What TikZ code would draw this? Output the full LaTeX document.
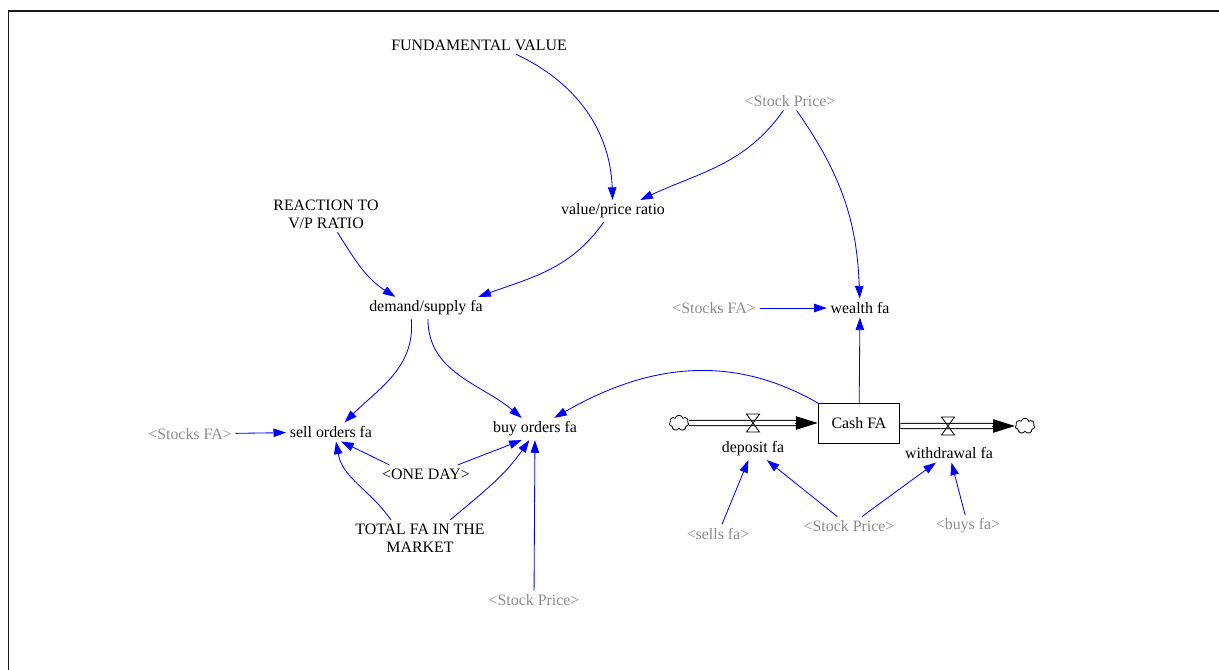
\documentclass[tikz,border=0pt]{standalone}
\usepackage{fontspec}
\setmainfont{Liberation Serif}
\usetikzlibrary{arrows.meta, shapes.symbols}
\definecolor{LinkBlue}  {HTML}{0000FF}
\definecolor{ShadowGray}{HTML}{8C8C8C}
\definecolor{FrameBlack}{HTML}{1A1A1A}
\tikzset{
  var/.style={
    font=\fontsize{11.3}{13}\selectfont, align=center, inner sep=2.5pt,
  },
  shadowvar/.style={var, text=ShadowGray},
  stock/.style={
    draw, line width=0.7pt, minimum width=58pt, minimum height=28.5pt,
    font=\fontsize{11.3}{13}\selectfont, inner sep=2pt,
  },
  link/.style={
    -{Triangle[length=9pt,width=6pt]}, color=LinkBlue, line width=0.6pt,
  },
  pipe/.style={double, double distance=3pt, line width=0.7pt},
  pipetip/.style={-{Triangle[length=15.5pt,width=9.5pt]}, line width=0.7pt},
  cloudend/.style={
    cloud, cloud puffs=7, draw, line width=0.6pt,
    minimum width=14pt, minimum height=11pt, inner sep=0pt,
  },
  valve/.pic={
    \draw[line width=0.6pt] (-6.5,9) -- (6.5,9) -- (-6.5,-9) -- (6.5,-9) -- cycle;
  },
}

\begin{document}
\begin{tikzpicture}[x=0.025cm, y=0.025cm]

\useasboundingbox (0,0) rectangle (1219,-670);

% ── Frame (only top and left edges show) ─────────────────────────────────
\draw[FrameBlack, line width=1.4pt] (8.5,-670) -- (8.5,-11) -- (1219,-11);

% ── Variables ─────────────────────────────────────────────────────────────
\node[var]       (fv)     at (479,-45)  {FUNDAMENTAL VALUE};
\node[shadowvar] (spA)    at (790,-101) {<Stock Price>};
\node[var]       (react)  at (326,-214) {REACTION TO\\V/P RATIO};
\node[var]       (vpr)    at (613,-211) {value/price ratio};
\node[var]       (dem)    at (426,-308) {demand/supply fa};
\node[shadowvar] (stkA)   at (714,-308) {<Stocks FA>};
\node[var]       (wealth) at (860,-308) {wealth fa};
\node[shadowvar] (stkB)   at (190,-434) {<Stocks FA>};
\node[var]       (sell)   at (331,-432) {sell orders fa};
\node[var]       (buy)    at (535,-429) {buy orders fa};
\node[var]       (oneday) at (426,-474) {<ONE DAY>};
\node[var]       (total)  at (420,-538) {TOTAL FA IN THE\\MARKET};
\node[shadowvar] (spB)    at (534,-600) {<Stock Price>};

% ── Stock and flows ───────────────────────────────────────────────────────
\node[stock]    (cash)   at (859,-423.5) {Cash FA};
\node[cloudend] (cloudL) at (679,-423) {};
\node[cloudend] (cloudR) at (1025,-426) {};
\coordinate (vdep) at (753,-423);
\coordinate (vwd)  at (948,-426);

\draw[pipe, shorten >=15pt] (cloudL) -- (cloudL -| cash.west);
\draw[pipetip] ([xshift=-16pt]cloudL -| cash.west) -- (cloudL -| cash.west);
\draw[pipe, shorten >=15pt] (cloudR -| cash.east) -- (cloudR);
\draw[pipetip] ([xshift=-16pt]cloudR.west) -- (cloudR.west);
\pic at (vdep) {valve};
\pic at (vwd) {valve};

\node[var]       (dep)   at (753,-449) {deposit fa};
\node[var]       (wd)    at (949,-453) {withdrawal fa};
\node[shadowvar] (sells) at (718,-534) {<sells fa>};
\node[shadowvar] (spC)   at (849,-526) {<Stock Price>};
\node[shadowvar] (buys)  at (968,-526) {<buys fa>};

% ── Links ─────────────────────────────────────────────────────────────────
\draw[link] (fv.-14) to[out=-25, in=92] (vpr);
\draw[link] (spA) to[out=235, in=25] (vpr.22);
\draw[link] (spA) to[out=-55, in=92] (wealth);
\draw[link] (stkA) -- (wealth);

\draw[link] (react) to[out=-58, in=148] (dem.160);
\draw[link] (vpr.-130) to[out=235, in=20] (dem.12);

\draw[link] (dem.-143) to[out=-85, in=45] (sell.35);
\draw[link] (dem.-80) to[out=-90, in=140] (buy.140);
\draw[link] (cash.north west) to[out=150, in=30] (buy.30);

\draw[link] (stkB) -- (sell);
\draw[link] (oneday.166) -- (sell.-43);
\draw[link] (oneday.16) -- (buy.220);
\draw[link] (total.148) to[out=125, in=-80] (sell.-62);
\draw[link] (total.31) to[out=40, in=235] (buy.-117);
\draw[link] (spB) -- (buy);

\draw[link] (cash) -- (wealth);
\draw[link] (sells) -- (dep);
\draw[link] (spC) -- (dep);
\draw[link] (spC) -- (wd);
\draw[link] (buys) -- (wd);

\end{tikzpicture}
\end{document}
